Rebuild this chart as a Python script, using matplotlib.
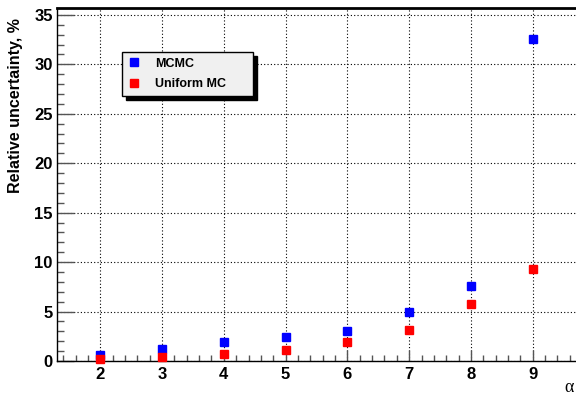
import numpy as np
import matplotlib
matplotlib.use("Agg")
import matplotlib.pyplot as plt
from matplotlib.ticker import MultipleLocator

alpha = [2, 3, 4, 5, 6, 7, 8, 9]
mcmc = [0.6, 1.2, 1.9, 2.4, 3.0, 5.0, 7.6, 32.6]
uniform_mc = [0.2, 0.37, 0.7, 1.08, 1.9, 3.1, 5.8, 9.3]

plt.rcParams['font.family'] = ['Liberation Sans', 'DejaVu Sans']

fig = plt.figure(figsize=(5.76, 3.95), dpi=100)
W, H = 576, 395
ax = fig.add_axes([57 / W, (H - 361) / H, (576 - 57) / W, (361 - 8) / H])

ax.plot(alpha, mcmc, 's', color='#0000ff', markersize=6, label='MCMC',
        zorder=3, clip_on=False)
ax.plot(alpha, uniform_mc, 's', color='#ff0000', markersize=6,
        label='Uniform MC', zorder=3, clip_on=False)

ax.set_xlim(1.3, 9.7)
ax.set_ylim(0, 35.7)
ax.xaxis.set_major_locator(MultipleLocator(1))
ax.xaxis.set_minor_locator(MultipleLocator(0.2))
ax.yaxis.set_major_locator(MultipleLocator(5))
ax.yaxis.set_minor_locator(MultipleLocator(1))

ax.grid(True, which='major', color='black', linestyle=(0, (1, 2)),
        linewidth=0.8)
ax.set_axisbelow(True)

ax.tick_params(axis='x', which='major', direction='in', length=8,
               width=1, color='#555555', labelsize=12, pad=4)
ax.tick_params(axis='x', which='minor', direction='in', length=4,
               width=1, color='#555555')
ax.tick_params(axis='y', which='major', direction='in', length=12,
               width=1, color='#555555', labelsize=12, pad=3)
ax.tick_params(axis='y', which='minor', direction='in', length=5,
               width=1, color='#555555')
for lab in ax.get_xticklabels() + ax.get_yticklabels():
    lab.set_fontweight('bold')

ax.spines['right'].set_visible(False)
ax.spines['top'].set_linewidth(2)
ax.spines['left'].set_linewidth(1)
ax.spines['bottom'].set_linewidth(1)

ax.set_ylabel('Relative uncertainty, %', fontsize=11.5, fontweight='bold')
ax.yaxis.set_label_coords(-0.0655, 0.972)
ax.yaxis.label.set_horizontalalignment('right')
ax.text(0.995, -0.076, 'α', transform=ax.transAxes, ha='right', va='center',
        fontsize=13, family=['Liberation Serif', 'DejaVu Serif'])

leg = ax.legend(loc='upper left', bbox_to_anchor=(0.125, 0.75, 0.253, 0.125),
                mode='expand', prop={'weight': 'bold', 'size': 9},
                frameon=True, fancybox=False, framealpha=1,
                edgecolor='black', facecolor='#f0f0f0',
                handlelength=1.0, handletextpad=1.2, labelspacing=0.65,
                borderpad=0.45, borderaxespad=0,
                shadow={'ox': 3, 'oy': -3, 'color': 'black', 'alpha': 1})
leg.get_frame().set_linewidth(1)

fig.savefig('out.png', dpi=100)
